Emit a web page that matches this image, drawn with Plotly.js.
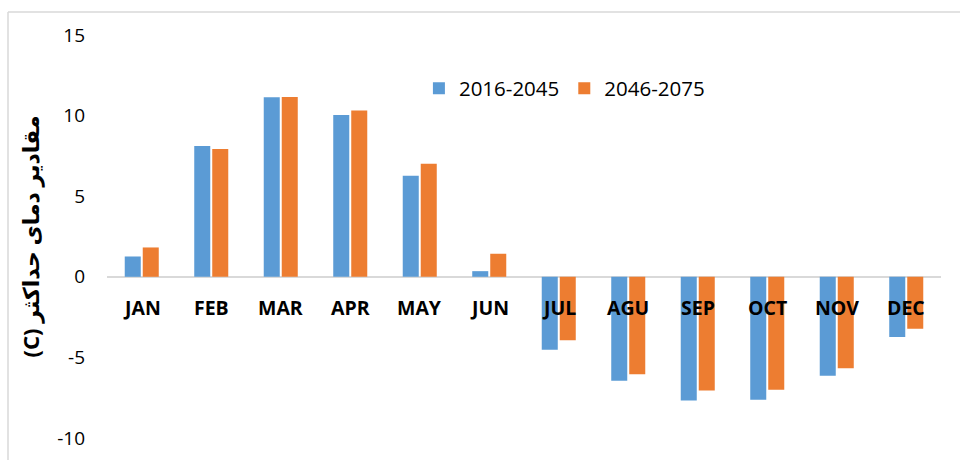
<!DOCTYPE html>
<html>
<head>
<meta charset="utf-8">
<script src="https://cdn.plot.ly/plotly-3.0.1.min.js"></script>
<style>html,body{margin:0;padding:0;background:#fff;}#chart{width:960px;height:460px;}</style>
</head>
<body>
<div id="chart"></div>
<script>
const months = ["JAN","FEB","MAR","APR","MAY","JUN","JUL","AGU","SEP","OCT","NOV","DEC"];
const seriesA = [1.26, 8.12, 11.14, 10.04, 6.27, 0.35, -4.53, -6.45, -7.67, -7.63, -6.14, -3.74];
const seriesB = [1.82, 7.93, 11.16, 10.31, 7.02, 1.43, -3.93, -6.04, -7.05, -7.01, -5.68, -3.23];
const nameA = "2016-2045";
const nameB = "2046-2075";
const yTitle = "(C) مقادیر دمای حداکثر";
const yTicks = [-10, -5, 0, 5, 10, 15];

const FONT = "'Open Sans', 'Liberation Sans', sans-serif";
const traces = [
  {type:'bar', x: months, y: seriesA, name: nameA, marker:{color:'#5b9bd5', line:{width:0}}},
  {type:'bar', x: months, y: seriesB, name: nameB, marker:{color:'#ed7d31', line:{width:0}}}
];
const annotations = months.map(m => ({
  x: m, y: 0, xref:'x', yref:'y', text: m, showarrow:false,
  yanchor:'middle', yshift:-31,
  font:{family:FONT, size:19.5, color:'#000', weight:'bold'}
}));
const layout = {
  width:960, height:460,
  margin:{l:107, r:19, t:35, b:22},
  paper_bgcolor:'#fff', plot_bgcolor:'#fff',
  barmode:'group', bargap:0.482, bargroupgap:0.11,
  showlegend:true,
  legend:{orientation:'h', x:0.374, y:0.917, xanchor:'left', yanchor:'top',
    font:{family:FONT, size:20.5, color:'#000'}, itemwidth:30, tracegroupgap:0, bgcolor:'rgba(0,0,0,0)'},
  xaxis:{showticklabels:false, showline:false, showgrid:false, zeroline:false, ticks:''},
  yaxis:{range:[-10,15], tickvals:yTicks, ticktext:yTicks.map(String), showgrid:false,
    zeroline:true, zerolinecolor:'#d9d9d9', zerolinewidth:1.5, showline:false, ticks:'',
    ticklabelstandoff:21,
    tickfont:{family:FONT, size:19, color:'#000'},
    title:{text:yTitle, standoff:11, font:{family:"'Noto Sans', 'DejaVu Sans', sans-serif", size:22, color:'#000', weight:'bold'}}},
  annotations: annotations,
  shapes:[
    {type:'line', xref:'paper', yref:'paper', x0:(8-107)/834, x1:(960-107)/834, y0:(438-12)/403, y1:(438-12)/403, line:{color:'#d9d9d9', width:1.5}},
    {type:'line', xref:'paper', yref:'paper', x0:(8-107)/834, x1:(8-107)/834, y0:(438-12)/403, y1:(438-460)/403, line:{color:'#d9d9d9', width:1.5}}
  ]
};
Plotly.newPlot('chart', traces, layout, {displayModeBar:false, staticPlot:true});
</script>
</body>
</html>
